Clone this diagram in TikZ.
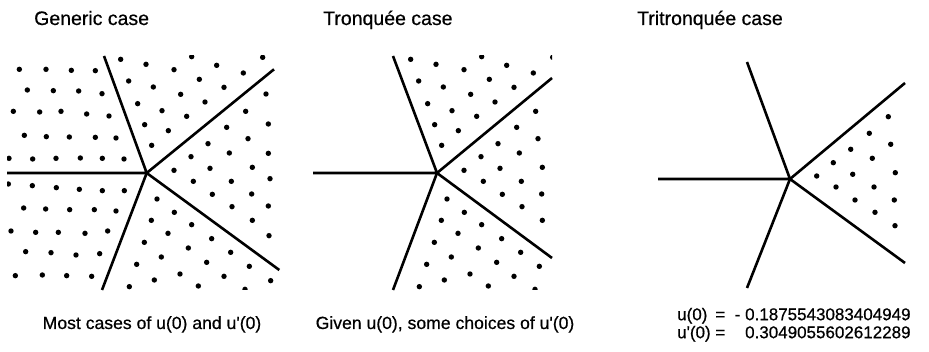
\documentclass[tikz,border=0pt]{standalone}
\usepackage{fontspec}
\setmainfont{Liberation Sans}
\newfontfamily\heavysans{Liberation Sans}[FakeBold=0.6]
\tikzset{
  ray/.style={line width=2.6pt, line cap=butt},
  dotmark/.style={fill=black},
  titletxt/.style={anchor=base west, inner sep=0pt, font=\heavysans\fontsize{19.5}{22}\selectfont},
  captxt/.style={anchor=base, inner sep=0pt, font=\heavysans\fontsize{17.6}{20}\selectfont},
}
\newcommand{\dotsUL}{58/88,138/88,214/91,286/92,82/150,160/152,236/153,306/161,40/214,119/216,183/214,260/222,327/228,73/286,139/290,208/291,286/292,348/294,27/355,98/357,168/355,241/354,307/355,372/357}
\newcommand{\dotsLL}{25/432,97/437,169/443,238/448,307/452,373/452,71/504,137/507,209/509,283/509,348/513,33/573,107/577,175/577,255/580,323/573,77/635,153/638,228/645,299/641,46/707,127/705,200/707,275/709}
\newcommand{\dotsUR}{362/58,438/73,522/89,575/50,650/76,730/99,788/52,386/123,460/141,542/163,598/118,672/142,413/191,486/212,560/229,615/186,434/254,505/272,455/316}
\newcommand{\dotsR}{798/162,737/214,805/252,680/262,744/296,624/311,805/340,573/350,688/339,757/382,522/391,630/385,810/416,580/424,694/424,637/463,755/462,696/500,805/498,757/541,807/587}
\newcommand{\dotsLo}{471/477,523/517,454/541,575/554,504/580,433/607,635/596,565/624,484/651,692/637,410/673,620/667,748/679,540/702,463/720,672/709,388/740,595/738,812/722,735/748}
\newcommand{\dotr}{2.7}
\begin{document}
\begin{tikzpicture}[x=1pt,y=-1pt]
\useasboundingbox (0,0) rectangle (929,352);
% ---------- Panel 1 ----------
\coordinate (c1) at (146.7,173);
\coordinate (l1) at (7,173);
\coordinate (u1) at (104,56);
\coordinate (ur1) at (274,69.3);
\coordinate (lr1) at (279.3,270);
\coordinate (d1) at (102,290);
\begin{scope}
  \clip (7,56) rectangle (281,290);
  \foreach \a/\b in \dotsUL {\fill[dotmark] ({\a/3},{40+\b/3}) circle (\dotr);}
  \foreach \a/\b in \dotsLL {\fill[dotmark] ({\a/3},{40+\b/3}) circle (\dotr);}
  \foreach \a/\b in \dotsUR {\fill[dotmark] ({\a/3},{40+\b/3}) circle (\dotr);}
  \foreach \a/\b in \dotsR {\fill[dotmark] ({\a/3},{40+\b/3}) circle (\dotr);}
  \foreach \a/\b in \dotsLo {\fill[dotmark] ({\a/3},{40+\b/3}) circle (\dotr);}
\end{scope}
\draw[ray] (l1) -- (c1) -- (u1);
\draw[ray] (c1) -- (ur1);
\draw[ray] (c1) -- (lr1);
\draw[ray] (c1) -- (d1);
% ---------- Panel 2 ----------
\coordinate (c2) at (437,173);
\coordinate (l2) at (313,173);
\coordinate (u2) at (393,56);
\coordinate (ur2) at (552,78);
\coordinate (lr2) at (552,258);
\coordinate (d2) at (393,290);
\begin{scope}
  \clip (300,56) rectangle (552,290);
  \foreach \a/\b in \dotsUR {\fill[dotmark] ({290+\a/3},{40+\b/3}) circle (\dotr);}
  \foreach \a/\b in \dotsR {\fill[dotmark] ({290+\a/3},{40+\b/3}) circle (\dotr);}
  \foreach \a/\b in \dotsLo {\fill[dotmark] ({290+\a/3},{40+\b/3}) circle (\dotr);}
\end{scope}
\draw[ray] (l2) -- (c2) -- (u2);
\draw[ray] (c2) -- (ur2);
\draw[ray] (c2) -- (lr2);
\draw[ray] (c2) -- (d2);
% ---------- Panel 3 ----------
\coordinate (c3) at (790,179);
\coordinate (l3) at (658,179);
\coordinate (u3) at (747,62);
\coordinate (ur3) at (905,83);
\coordinate (lr3) at (905,263);
\coordinate (d3) at (747,288);
\foreach \p in {(888.3,116.7),(869.3,133.3),(890.7,144.3),(850.7,149.3),(872.3,158.3),(833.3,162.7),(852.7,174.3),(895.3,172.7),(816.7,176),(836,187),(874,187),(855,200),(894.3,200),(875,212.3),(895,225.7)}
  {\fill[dotmark] \p circle (\dotr);}
\draw[ray] (l3) -- (c3) -- (u3);
\draw[ray] (c3) -- (ur3);
\draw[ray] (c3) -- (lr3);
\draw[ray] (c3) -- (d3);
% ---------- Titles ----------
\node[titletxt] (t1) at (34,25) {Generic case};
\node[titletxt] (t2) at (323,25) {Tronquée case};
\node[titletxt] (t3) at (637,25) {Tritronquée case};
% ---------- Captions ----------
\node[captxt] (k1) at (152,329) {Most cases of u(0) and u\textquotesingle(0)};
\node[captxt] (k2) at (445,329) {Given u(0), some choices of u\textquotesingle(0)};
\node[anchor=north west, inner sep=0pt, font=\heavysans\fontsize{17}{20}\selectfont] (k3) at (677,306)
  {\begin{tabular}{@{}l@{\ }l@{\ \ }r@{}}
   u(0) & = & - 0.1875543083404949\\[-2pt]
   u\textquotesingle(0) & = & 0.3049055602612289
   \end{tabular}};
\end{tikzpicture}
\end{document}
